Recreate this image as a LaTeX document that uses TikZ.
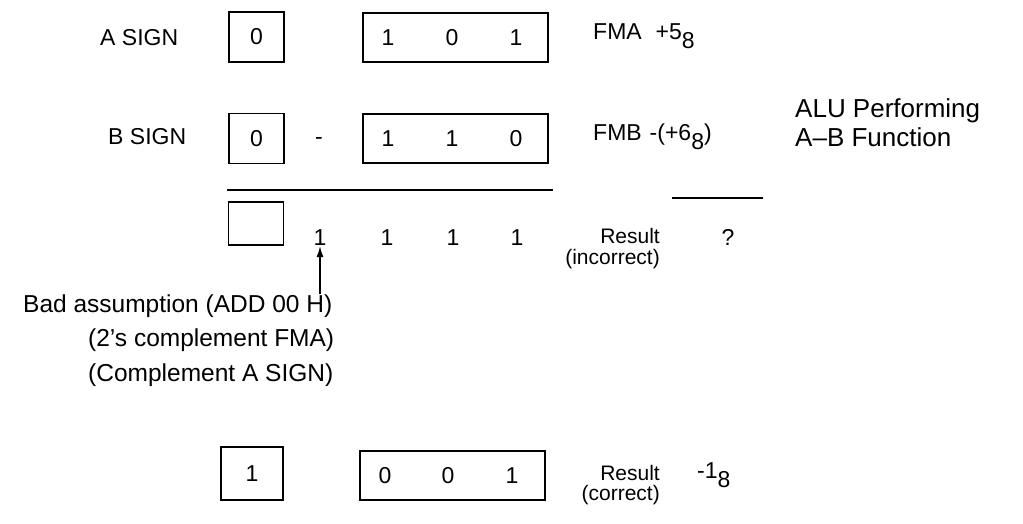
\documentclass[tikz,border=0pt]{standalone}
\usepackage{fontspec}
\setmainfont{Liberation Sans}
\usetikzlibrary{arrows.meta,positioning}
\newcommand{\lowdig}[1]{\raisebox{-9pt}{#1}}
\begin{document}
\begin{tikzpicture}[
    x=1pt, y=-1pt,
    font=\fontsize{23}{27}\selectfont,
    signbox/.style={draw, line width=1.5pt, inner sep=0pt,
      minimum width=55pt, minimum height=50pt},
    regbox/.style={draw, line width=1.5pt, inner sep=0pt,
      minimum width=185pt, minimum height=49pt},
    digit/.style={inner sep=0pt},
    lbl/.style={inner sep=0pt, anchor=west},
    rlbl/.style={inner sep=0pt, anchor=east, font=\fontsize{21}{25}\selectfont},
    note/.style={inner sep=0pt, anchor=west, font=\fontsize{24.5}{29}\selectfont},
    rule/.style={line width=1.5pt},
    arr/.style={-{Latex[length=11pt,width=7pt]}, line width=1.5pt}
  ]
    \useasboundingbox (0,0) rectangle (1023,523);

    % A operand
    \node[lbl] (asign) at (100,38) {A SIGN};
    \node[signbox] (abox) at (256.5,37) {0};
    \node[regbox] (areg) at (455.5,37.5) {};
    \node[digit] (a1) at (388,38) {1};
    \node[digit] (a2) at (452,38) {0};
    \node[digit] (a3) at (516,38) {1};
    \node[lbl] (fma) at (593,36) {FMA\hspace{14pt}+5\lowdig{8}};

    % B operand
    \node[lbl] (bsign) at (108,137) {B SIGN};
    \node[signbox] (bbox) at (256.5,138.5) {0};
    \node[digit] (minus) at (319,141) {-};
    \node[regbox] (breg) at (455.5,138.5) {};
    \node[digit] (b1) at (388,139) {1};
    \node[digit] (b2) at (452,139) {1};
    \node[digit] (b3) at (516,139) {0};
    \node[lbl] (fmb) at (593,137) {FMB\hspace{8pt}-(+6\lowdig{8})};

    \node[lbl, font=\fontsize{26}{30}\selectfont] (alu) at (795,111) {ALU Performing};
    \node[lbl, font=\fontsize{26}{30}\selectfont, below=4pt of alu.south west,
      anchor=north west] (func) {A--B Function};

    % sum lines
    \draw[rule] (227,190) -- (553,190);
    \draw[rule] (672,198) -- (763,198);

    % incorrect result
    \node[signbox, minimum height=43pt] (rbox) at (256,223.5) {};
    \node[digit] (r1) at (320,238) {1};
    \node[digit] (r2) at (387,238) {1};
    \node[digit] (r3) at (453,238) {1};
    \node[digit] (r4) at (517,238) {1};
    \node[rlbl] (res1) at (660,236) {Result};
    \node[digit] (qm) at (728,237) {?};
    \node[rlbl] (inc) at (660,259) {(incorrect)};

    % notes
    \node[note] (bad) at (23,306) {Bad assumption (ADD 00 H)};
    \node[note] (twos) at (88,340) {(2's complement FMA)};
    \node[note] (comp) at (88,375) {(Complement A SIGN)};
    \draw[arr] (bad.north -| r1.south) -- (r1.south);

    % correct result
    \node[signbox, minimum width=62pt, minimum height=53pt] (cbox) at (252,473.5) {1};
    \node[regbox] (creg) at (452.5,475.5) {};
    \node[digit] (c1) at (385,476) {0};
    \node[digit] (c2) at (448,476) {0};
    \node[digit] (c3) at (512,476) {1};
    \node[rlbl] (res2) at (660,473) {Result};
    \node[rlbl] (cor) at (660,495) {(correct)};
    \node[lbl] (cval) at (697,475) {-1\lowdig{8}};
\end{tikzpicture}
\end{document}
